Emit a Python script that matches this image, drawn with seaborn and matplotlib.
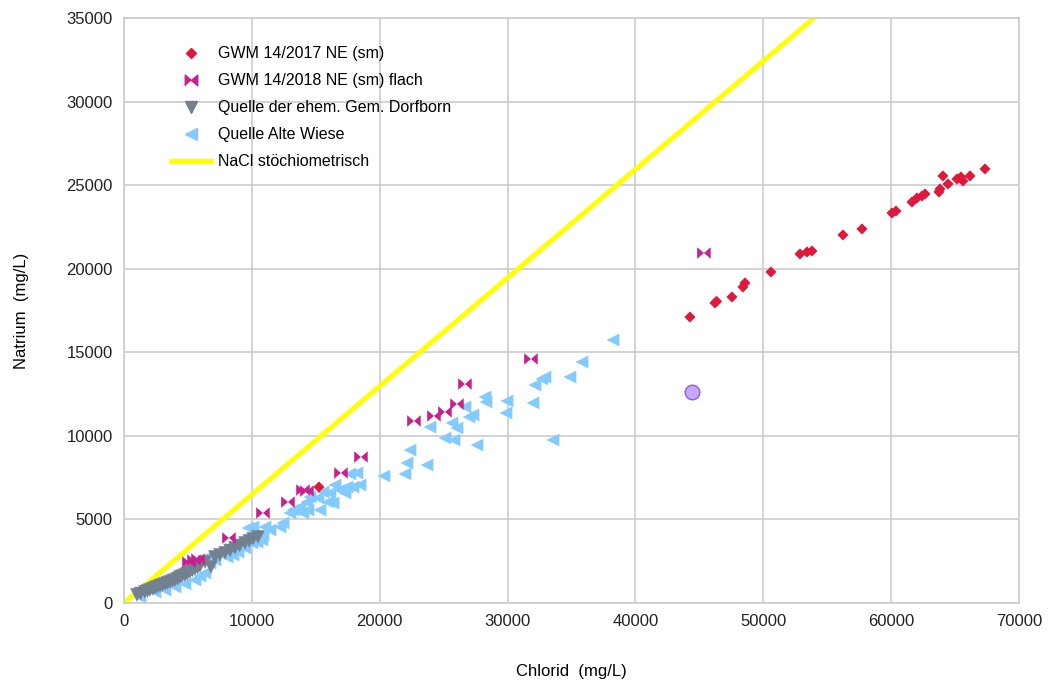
import numpy as np
import pandas as pd
import seaborn as sns
import matplotlib.pyplot as plt
from matplotlib.lines import Line2D

# GWM 14/2017 NE (sm)
gwm17_cl = [15250, 44265, 46220, 46350, 47550, 48410, 48570, 50600, 52870, 53420, 53810,
            56235, 57720, 60065, 60380, 61630, 62020, 62410, 62650, 63740, 63820,
            64050, 64450, 65150, 65460, 65620, 66170, 67340]
gwm17_na = [6940, 17110, 17950, 18050, 18310, 18905, 19150, 19805, 20880, 21000, 21060,
            22020, 22380, 23335, 23450, 23990, 24230, 24350, 24470, 24590, 24770,
            25550, 25070, 25370, 25490, 25250, 25550, 25970]

# GWM 14/2018 NE (sm) flach
gwm18_cl = [5085, 5475, 5790, 8210, 10870, 12825, 14000, 14310, 16970, 18535,
            22680, 24245, 25105, 26045, 26670, 31830, 45360]
gwm18_na = [2455, 2570, 2630, 3890, 5385, 6040, 6760, 6700, 7780, 8735,
            10890, 11190, 11430, 11905, 13100, 14600, 20940]

# Quelle der ehem. Gem. Dorfborn
dorf_cl = [1015, 1300, 1640, 1850, 2030, 2250, 2425, 2600, 2815, 3000, 3205, 3400, 3600,
           3800, 3990, 4200, 4380, 4550, 4770, 4950, 5160, 5350, 5550, 5750, 5945,
           6335, 6800, 7115, 7500, 7900, 8300, 8680, 9050, 9465, 9800, 10090, 10480]
dorf_na = [480, 560, 660, 720, 780, 840, 900, 960, 1020, 1080, 1140, 1200, 1255,
           1320, 1375, 1460, 1555, 1610, 1675, 1760, 1855, 1950, 2035, 2120, 2215,
           2450, 2150, 2750, 2870, 2990, 3140, 3290, 3440, 3590, 3710, 3830, 3950]

# Quelle Alte Wiese
wiese_cl = [1250, 2425, 3205, 3990, 4770, 5550, 5945, 6335, 6490, 6725, 7115, 8055,
            8525, 8915, 9465, 9700, 10010, 10090, 10400, 10790, 11030, 11420, 10870,
            12200, 12435, 12980, 13220, 13530, 13765, 14000, 14390, 14550, 14310,
            15170, 15330, 15565, 15955, 16110, 16350, 16500, 16890, 17285, 17440,
            17675, 17910, 18220, 18460, 20335, 21975, 22130, 22370, 23700, 23930,
            25105, 25650, 25810, 26045, 26670, 26980, 27295, 27610, 28235, 28310,
            29875, 29955, 31990, 32140, 32690, 32925, 33550, 34880, 35820, 38245]
wiese_na = [360, 660, 780, 960, 1140, 1375, 1615, 1795, 2750, 2390, 2570, 2750,
            2870, 3050, 3290, 4490, 3590, 4550, 3650, 3770, 4550, 4370, 4070,
            4550, 4790, 5385, 5565, 5565, 5740, 5385, 5565, 6340, 6040,
            6280, 5565, 6640, 6040, 6580, 5980, 7060, 6760, 6580, 6940,
            7720, 6940, 7780, 7060, 7600, 7720, 8375, 9150, 8255, 10530,
            9870, 10770, 9750, 10470, 11730, 11130, 11250, 9450, 12325, 12025,
            11370, 12085, 11970, 13040, 13400, 13520, 9750, 13520, 14420, 15735]

# odd single point in the chart
extra_cl = [44420]
extra_na = [12625]

# NaCl stoichiometric line
nacl_cl = [0, 60000]
nacl_na = [0, 38910]

plt.rcParams['font.family'] = ['Liberation Sans', 'DejaVu Sans']
fig = plt.figure(figsize=(10.48, 6.84), dpi=100)
ax = fig.add_axes([0.1183, 0.1184, 0.854, 0.8553])

bowtie = [(-1, -0.85), (-1, 0.85), (0, 0), (1, 0.85), (1, -0.85), (0, 0)]

sns.lineplot(x=nacl_cl, y=nacl_na, color="#ffff00", linewidth=3.5, ax=ax, zorder=2)
sns.scatterplot(x=wiese_cl, y=wiese_na, marker="<", s=85, color="#83caff",
                edgecolor="none", ax=ax, zorder=3)
sns.scatterplot(x=dorf_cl, y=dorf_na, marker="v", s=95, color="#728090",
                edgecolor="none", ax=ax, zorder=4)
sns.scatterplot(x=gwm18_cl, y=gwm18_na, marker=bowtie, s=95, color="#c8208e",
                edgecolor="none", ax=ax, zorder=5)
sns.scatterplot(x=gwm17_cl, y=gwm17_na, marker="D", s=32, color="#e0183c",
                edgecolor="none", ax=ax, zorder=6)
sns.scatterplot(x=extra_cl, y=extra_na, marker="o", s=110, color="#c8a8ff",
                edgecolor="#9060d0", linewidth=1, ax=ax, zorder=6)

ax.set_xlim(0, 70000)
ax.set_ylim(0, 35000)
ax.set_xticks(np.arange(0, 70001, 10000))
ax.set_yticks(np.arange(0, 35001, 5000))
ax.grid(True, color="#cccccc", linewidth=1.2)
ax.set_axisbelow(True)
for sp in ax.spines.values():
    sp.set_color("#cccccc")
    sp.set_linewidth(1.2)
ax.tick_params(length=0, labelsize=12, pad=8, colors="#222222")
ax.set_xlabel("Chlorid  (mg/L)", fontsize=12, labelpad=25)
ax.set_ylabel("Natrium  (mg/L)", fontsize=12, labelpad=27)

handles = [
    Line2D([], [], linestyle="none", marker="D", markersize=5.5, color="#e0183c"),
    Line2D([], [], linestyle="none", marker=bowtie, markersize=9, color="#c8208e"),
    Line2D([], [], linestyle="none", marker="v", markersize=8, color="#728090"),
    Line2D([], [], linestyle="none", marker="<", markersize=8, color="#83caff"),
    Line2D([], [], color="#ffff00", linewidth=3.5),
]
labels = ["GWM 14/2017 NE (sm)", "GWM 14/2018 NE (sm) flach",
          "Quelle der ehem. Gem. Dorfborn", "Quelle Alte Wiese", "NaCl stöchiometrisch"]
ax.legend(handles, labels, loc="upper left", bbox_to_anchor=(0.036, 0.976),
          frameon=False, fontsize=11.5, handlelength=2.5, labelspacing=0.75,
          handletextpad=0.45)

fig.savefig("out.png", dpi=100)
